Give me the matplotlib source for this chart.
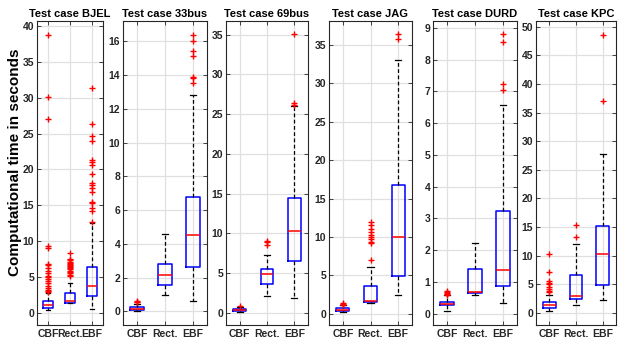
import numpy as np
import matplotlib.pyplot as plt

plt.rcParams['font.family'] = ['Liberation Sans', 'DejaVu Sans']

cases = ['BJEL', '33bus', '69bus', 'JAG', 'DURD', 'KPC']
methods = ['CBF', 'Rect.', 'EBF']

# box statistics: one row per test case, columns CBF / Rect. / EBF
medians = [[1.1, 1.6, 3.8], [0.16, 2.15, 4.55], [0.38, 4.93, 10.36],
           [0.52, 1.73, 10.0], [0.31, 0.67, 1.37], [1.45, 3.0, 10.35]]
q1 = [[0.7, 1.4, 2.3], [0.08, 1.54, 2.62], [0.25, 3.6, 6.6],
      [0.35, 1.52, 4.95], [0.26, 0.65, 0.88], [0.87, 2.44, 4.8]]
q3 = [[1.6, 2.8, 6.4], [0.26, 2.8, 6.8], [0.5, 5.5, 14.4],
      [0.74, 3.64, 16.7], [0.38, 1.39, 3.22], [1.98, 6.6, 15.2]]
whisk_lo = [[0.4, 1.3, 0.56], [0.04, 1.0, 0.61], [0.1, 2.1, 1.88],
            [0.3, 1.4, 2.4], [0.07, 0.58, 0.34], [0.3, 1.34, 2.3]]
whisk_hi = [[2.8, 4.2, 12.5], [0.45, 4.6, 12.8], [0.7, 7.3, 26.0],
            [1.1, 6.1, 33.0], [0.57, 2.21, 6.56], [3.1, 12.0, 27.7]]

outliers = [
    [[38.8, 30.1, 27.1, 9.3, 9.0, 6.8, 6.6, 6.3, 5.8, 5.5, 5.2, 5.0, 4.7, 4.4,
      4.1, 3.8, 3.5, 3.2, 3.0, 2.9],
     [8.3, 7.5, 7.3, 7.1, 7.0, 6.8, 6.7, 6.5, 6.4, 6.2, 6.1, 5.9, 5.7, 5.5, 5.3, 5.2],
     [31.4, 26.3, 24.6, 24.0, 21.3, 21.0, 20.6, 19.3, 18.1, 17.8, 17.4, 16.9,
      15.5, 15.3, 14.6, 14.2, 12.6]],
    [[0.62, 0.58, 0.55], [], [16.4, 16.0, 15.4, 15.1, 13.9, 13.8, 13.5]],
    [[0.85], [9.1, 8.9, 8.5], [35.1, 26.4, 26.2]],
    [[1.4, 1.3, 1.2], [12.0, 11.6, 11.0, 10.6, 10.3, 10.0, 9.8, 9.4, 9.2, 7.0], [36.4, 35.7]],
    [[0.72, 0.68, 0.65, 0.62, 0.6], [], [8.8, 8.55, 7.22, 7.03]],
    [[10.3, 7.2, 5.6, 5.3, 5.0, 4.6, 4.2, 3.8, 3.6], [15.3, 13.2], [48.6, 37.1]],
]

y_limits = [(-1.7, 40.7), (-0.8, 17.2), (-1.5, 36.7), (-1.45, 38.1), (-0.36, 9.22), (-2.1, 51.0)]
y_tick_step = [5, 2, 5, 5, 1, 5]
y_tick_max = [40, 16, 35, 35, 9, 50]

# axes left/right edges in pixels
W, H = 618, 344
edges = [(37, 103), (123, 207), (226, 308), (329, 412), (433, 517), (536, 616)]
top_px, bot_px = 21, 325

fig = plt.figure(figsize=(W / 100, H / 100), dpi=100)
frame = '#262626'

for i, case in enumerate(cases):
    l, r = edges[i]
    ax = fig.add_axes([l / W, 1 - bot_px / H, (r - l) / W, (bot_px - top_px) / H])
    stats = []
    for j, m in enumerate(methods):
        stats.append(dict(med=medians[i][j], q1=q1[i][j], q3=q3[i][j],
                          whislo=whisk_lo[i][j], whishi=whisk_hi[i][j],
                          fliers=outliers[i][j], label=m))
    ax.bxp(stats, positions=[1, 2, 3], widths=0.47, capwidths=0.22,
           boxprops=dict(color='#0000ff', linewidth=1.1),
           medianprops=dict(color='#ff0000', linewidth=1.1),
           whiskerprops=dict(color='black', linewidth=0.9, linestyle=(0, (3, 2))),
           capprops=dict(color='black', linewidth=0.9),
           flierprops=dict(marker='+', markeredgecolor='#ff0000', markersize=4,
                           markeredgewidth=1.0, linestyle='none'),
           zorder=3)
    ax.set_xlim(0.5, 3.5)
    ax.set_ylim(*y_limits[i])
    ax.set_yticks(np.arange(0, y_tick_max[i] + 0.1, y_tick_step[i]))
    ax.set_xticks([1, 2, 3])
    ax.set_xticklabels(methods)
    ax.grid(True, color='#e0e0e0', linewidth=0.9, zorder=0)
    ax.set_axisbelow(True)
    ax.tick_params(direction='in', top=True, right=True, length=3, width=0.6,
                   colors=frame, labelsize=7.5, pad=2)
    ax.tick_params(axis='x', pad=3)
    for lab in ax.get_xticklabels() + ax.get_yticklabels():
        lab.set_fontweight('bold')
    for s in ax.spines.values():
        s.set_color(frame)
        s.set_linewidth(0.8)
    ax.set_title(f'Test case {case}', fontsize=8, fontweight='bold', pad=3)

fig.text(15 / W, 1 - 162 / H, 'Computational time in seconds',
         rotation=90, ha='center', va='center', fontsize=11, fontweight='bold')

fig.savefig('out.png', dpi=100)
